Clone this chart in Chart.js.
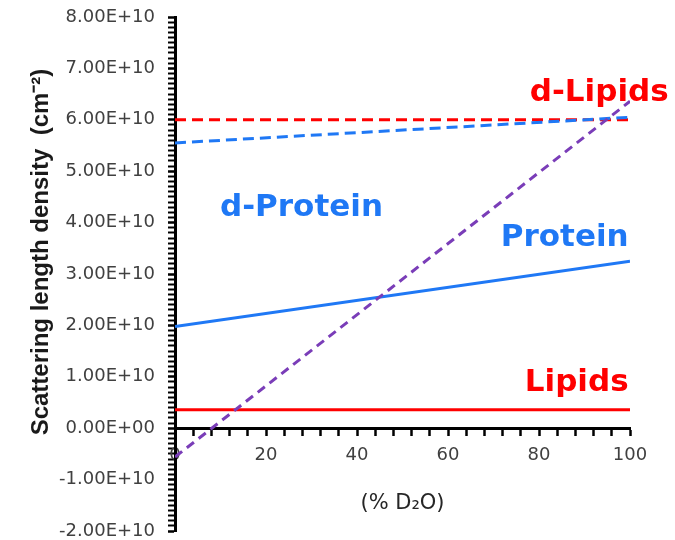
<!DOCTYPE html>
<html>
<head>
<meta charset="utf-8">
<script src="https://cdn.jsdelivr.net/npm/chart.js@4/dist/chart.umd.min.js"></script>
<style>
  html, body { margin: 0; padding: 0; background: #fff; }
  #wrap { width: 675px; height: 540px; }
</style>
</head>
<body>
<div id="wrap"><canvas id="sldChart"></canvas></div>
<script>
// % D2O in the solvent
var d2oPercent = [0, 100];

// scattering length densities (cm^-2) at 0 % and 100 % D2O
var waterSld = [-5.6e9, 6.36e10];
var lipidSld = [3.6e9, 3.6e9];
var dLipidSld = [6.0e10, 6.0e10];
var proteinSld = [1.98e10, 3.25e10];
var dProteinSld = [5.55e10, 6.05e10];

var xTickLabels = [0, 20, 40, 60, 80, 100];
var yTickLabels = [-2e10, -1e10, 0, 1e10, 2e10, 3e10, 4e10, 5e10, 6e10, 7e10, 8e10];

var seriesNames = ['Lipids', 'd-Lipids', 'Protein', 'd-Protein'];

function toPoints(values) {
    return d2oPercent.map(function(x, i) { return { x: x, y: values[i] }; });
}

// "6.00E+10" style labels
function sciLabel(v) {
    if (Math.abs(v) < 1) v = 0;
    var parts = v.toExponential(2).toUpperCase().split('E');
    var exp = parseInt(parts[1], 10);
    var sign = exp < 0 ? '-' : '+';
    var digits = Math.abs(exp).toString().padStart(2, '0');
    return parts[0] + 'E' + sign + digits;
}

function isMajorY(v) {
    return yTickLabels.some(function(t) { return Math.abs(v - t) < 1e6; });
}

var blue = '#1f78f5';
var red = '#ff0000';
var purple = '#7a3db8';

// text next to the lines, placed in data coordinates
var lineLabels = [
    { text: seriesNames[1], x: 108.5, y: 6.52e10, color: red, align: 'right' },
    { text: seriesNames[3], x: 9.9, y: 4.28e10, color: blue, align: 'left' },
    { text: seriesNames[2], x: 99.7, y: 3.70e10, color: blue, align: 'right' },
    { text: seriesNames[0], x: 99.7, y: 0.88e10, color: red, align: 'right' }
];

var labelPlugin = {
    id: 'lineLabels',
    afterDraw: function(chart) {
        var ctx = chart.ctx;
        var xs = chart.scales.x, ys = chart.scales.y;
        ctx.save();
        ctx.font = 'bold 31px "DejaVu Sans"';
        ctx.textBaseline = 'middle';
        lineLabels.forEach(function(l) {
            ctx.fillStyle = l.color;
            ctx.textAlign = l.align;
            ctx.fillText(l.text, xs.getPixelForValue(l.x), ys.getPixelForValue(l.y));
        });

        // y axis title
        ctx.translate(41, 252);
        ctx.rotate(-Math.PI / 2);
        ctx.textAlign = 'center';
        ctx.fillStyle = '#1a1a1a';
        ctx.font = 'bold 24px "Liberation Sans"';
        ctx.fillText('Scattering length density  (cm\u207B\u00B2)', 0, 0);
        ctx.restore();
    }
};

var ctx = document.getElementById('sldChart').getContext('2d');
new Chart(ctx, {
    type: 'line',
    data: {
        datasets: [
            {
                label: 'H2O/D2O',
                data: toPoints(waterSld),
                borderColor: purple,
                borderWidth: 3,
                borderDash: [9, 6]
            },
            {
                label: seriesNames[3],
                data: toPoints(dProteinSld),
                borderColor: blue,
                borderWidth: 3,
                borderDash: [11, 6]
            },
            {
                label: seriesNames[1],
                data: toPoints(dLipidSld),
                borderColor: red,
                borderWidth: 3,
                borderDash: [11, 6]
            },
            {
                label: seriesNames[2],
                data: toPoints(proteinSld),
                borderColor: blue,
                borderWidth: 3
            },
            {
                label: seriesNames[0],
                data: toPoints(lipidSld),
                borderColor: red,
                borderWidth: 3
            }
        ]
    },
    options: {
        responsive: true,
        maintainAspectRatio: false,
        animation: false,
        layout: { padding: { top: 17, right: 45, bottom: 9, left: 0 } },
        elements: { point: { radius: 0 }, line: { tension: 0 } },
        plugins: {
            legend: { display: false },
            tooltip: { enabled: false }
        },
        scales: {
            x: {
                type: 'linear',
                min: 0,
                max: 100,
                position: { y: 0 },
                border: { display: true, color: '#000', width: 3 },
                grid: {
                    display: true,
                    drawOnChartArea: false,
                    drawTicks: true,
                    tickLength: 6,
                    tickColor: '#000',
                    tickWidth: 2.5
                },
                ticks: {
                    stepSize: 4,
                    autoSkip: false,
                    maxRotation: 0,
                    padding: 10,
                    color: '#404040',
                    font: { family: '"DejaVu Sans"', size: 18 },
                    callback: function(v) {
                        return xTickLabels.indexOf(Math.round(v)) >= 0 && Math.abs(v - Math.round(v)) < 1e-6 ? String(Math.round(v)) : '';
                    }
                },
                title: {
                    display: true,
                    text: '(% D\u2082O)',
                    color: '#262626',
                    font: { family: '"DejaVu Sans"', size: 21 },
                    padding: { top: 15, bottom: 0 }
                }
            },
            y: {
                type: 'linear',
                min: -2e10,
                max: 8e10,
                border: { display: true, color: '#000', width: 3 },
                grid: {
                    display: true,
                    drawOnChartArea: false,
                    drawTicks: true,
                    tickLength: 7,
                    tickColor: '#000',
                    tickWidth: function(c) { return isMajorY(c.tick.value) ? 2.5 : 2; }
                },
                ticks: {
                    stepSize: 1e9,
                    autoSkip: false,
                    padding: 13,
                    color: '#404040',
                    font: { family: '"DejaVu Sans"', size: 18 },
                    callback: function(v) { return isMajorY(v) ? sciLabel(v) : ''; }
                },
                afterFit: function(scale) {
                    scale.width = 175;
                    scale.paddingTop = 0;
                    scale.paddingBottom = 0;
                }
            }
        }
    },
    plugins: [labelPlugin]
});
</script>
</body>
</html>
